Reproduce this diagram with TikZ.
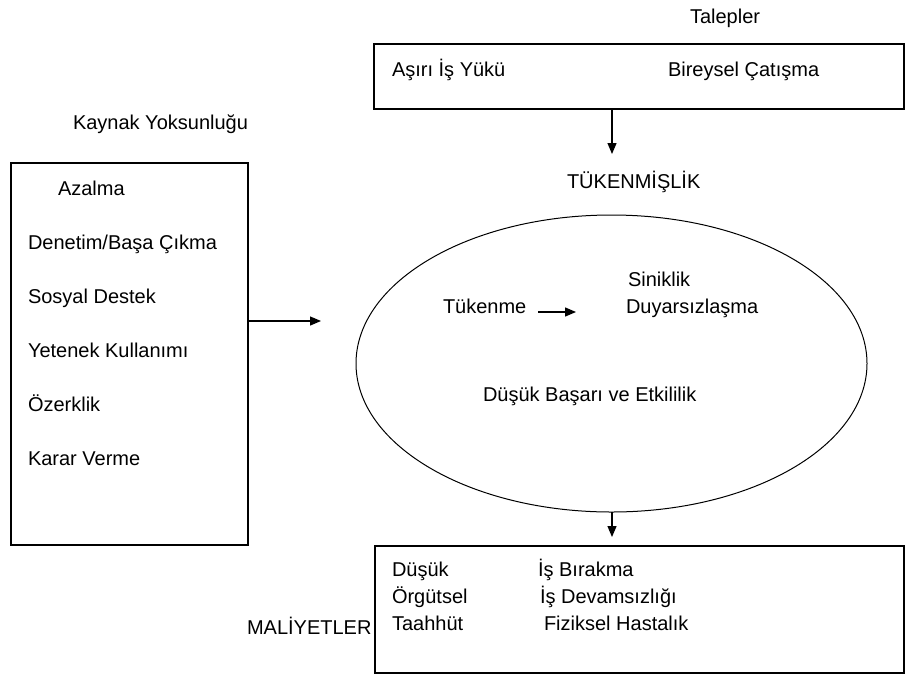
\documentclass[tikz,border=0pt]{standalone}
\usepackage{fontspec}
\setmainfont{Liberation Sans}
\usetikzlibrary{arrows.meta,shapes.geometric}
\begin{document}
\begin{tikzpicture}[x=1pt,y=-1pt,
  every node/.style={inner sep=0pt,outer sep=0pt,font=\fontsize{20}{24}\selectfont},
  lbl/.style={anchor=base west},
  boxx/.style={draw,line width=2pt,rectangle,anchor=north west},
  arr/.style={line width=1.3pt,-{Triangle[length=11pt,width=9pt]}}]
\useasboundingbox (0,0) rectangle (907,675);
% boxes
\node[boxx,minimum width=530pt,minimum height=65pt] (top) at (374,44) {};
\node[boxx,minimum width=237pt,minimum height=382pt] (left) at (11,163) {};
\node[boxx,minimum width=529pt,minimum height=127pt] (bot) at (375,546) {};
\node[draw,ellipse,line width=1pt,minimum width=511pt,minimum height=297pt] (ell) at (611.5,363.5) {};
% titles
\node[lbl] (talepler) at (690,23) {Talepler};
\node[lbl] (kaynak) at (73,129) {Kaynak Yoksunluğu};
\node[lbl] (tuk) at (567,188) {TÜKENMİŞLİK};
\node[lbl] (mal) at (247,634) {MALİYETLER};
% top box
\node[lbl] (asiri) at (392,76) {Aşırı İş Yükü};
\node[lbl] (bireysel) at (668,76) {Bireysel Çatışma};
% left box
\node[lbl] (azalma) at (58,195) {Azalma};
\node[lbl] (denetim) at (28,249) {Denetim/Başa Çıkma};
\node[lbl] (sosyal) at (28,303) {Sosyal Destek};
\node[lbl] (yetenek) at (28,357) {Yetenek Kullanımı};
\node[lbl] (ozerk) at (28,411) {Özerklik};
\node[lbl] (karar) at (28,465) {Karar Verme};
% ellipse
\node[lbl] (tukenme) at (443,313) {Tükenme};
\node[lbl] (sinik) at (628,286) {Siniklik};
\node[lbl] (duyar) at (626,313) {Duyarsızlaşma};
\node[lbl] (dusukb) at (483,401) {Düşük Başarı ve Etkililik};
% bottom box
\node[lbl] (dusuk) at (392,576) {Düşük};
\node[lbl] (orgut) at (392,603) {Örgütsel};
\node[lbl] (taah) at (392,630) {Taahhüt};
\node[lbl] (isbir) at (538,576) {İş Bırakma};
\node[lbl] (isdev) at (540,603) {İş Devamsızlığı};
\node[lbl] (fiz) at (544,630) {Fiziksel Hastalık};
% arrows
\coordinate (a1s) at (612,109);
\coordinate (a1e) at (612,154);
\draw[arr] (a1s) -- (a1e);
\coordinate (a2s) at (248,321);
\coordinate (a2e) at (321,321);
\draw[arr] (a2s) -- (a2e);
\coordinate (a3s) at (538,312);
\coordinate (a3e) at (576,312);
\draw[arr] (a3s) -- (a3e);
\coordinate (a4s) at (612,512);
\coordinate (a4e) at (612,537);
\draw[arr] (a4s) -- (a4e);
\end{tikzpicture}
\end{document}
